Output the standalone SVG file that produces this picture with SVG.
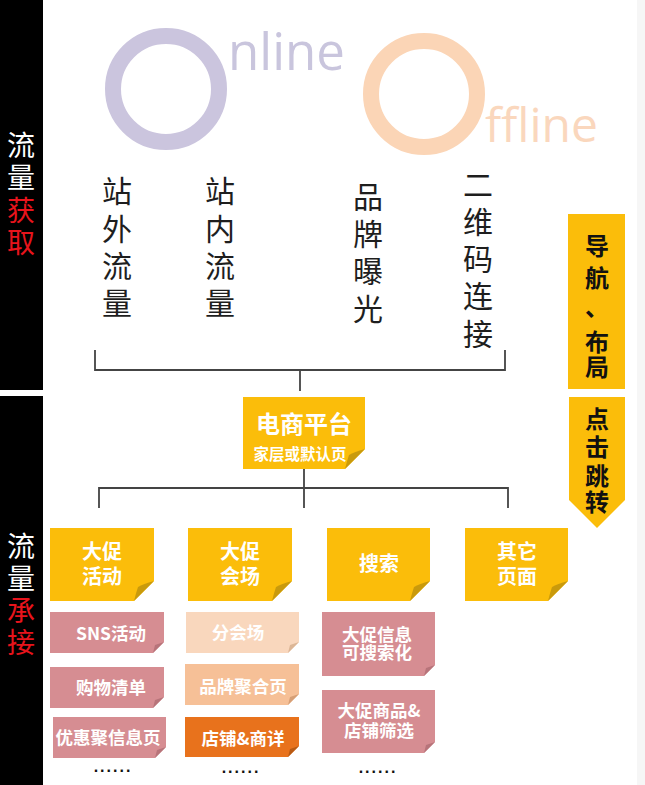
<svg xmlns="http://www.w3.org/2000/svg" width="645" height="785" viewBox="0 0 645 785">
<style>
.cjk{font-family:"Noto Sans CJK SC","Noto Sans",sans-serif}
.side{font-size:28px;text-anchor:middle}
.col{font-size:30px;fill:#1e1e1e;text-anchor:middle}
.ban{font-size:24px;font-weight:700;fill:#111;text-anchor:middle}
.bt{font-weight:700;fill:#fff;text-anchor:middle}
.t2{font-size:20px}
.t3{font-size:17.5px}
.y{fill:#fbbd0a}.yf{fill:#c99a0c}
.p{fill:#d68d92}.pf{fill:#b7747a}
.pe{fill:#f9d7bd}.pef{fill:#dcb696}
.pb{fill:#f6c097}.pbf{fill:#d69f76}
.or{fill:#e8721c}.orf{fill:#b85a14}
.w{fill:#fff}.r{fill:#e8141c}
.dots{font-family:"Liberation Sans",sans-serif;font-size:16px;font-weight:700;fill:#111;text-anchor:middle;letter-spacing:2px}
.ln{fill:none;stroke:#444;stroke-width:1.8}
</style>
<rect width="645" height="785" fill="#fff"/>
<rect x="637" y="0" width="8" height="785" fill="#f6f6f6"/>
<g id="sidebar">
<rect x="0" y="0" width="43" height="785" fill="#000"/>
<rect x="0" y="390" width="43" height="6" fill="#fff"/>
<text class="cjk side"><tspan class="w" x="21" y="156">流</tspan><tspan class="w" x="21" y="188">量</tspan><tspan class="r" x="21" y="221">获</tspan><tspan class="r" x="21" y="253">取</tspan></text>
<text class="cjk side"><tspan class="w" x="21" y="557">流</tspan><tspan class="w" x="21" y="589">量</tspan><tspan class="r" x="21" y="621">承</tspan><tspan class="r" x="21" y="653">接</tspan></text>
</g>
<g id="online">
<circle cx="166" cy="89" r="53" fill="none" stroke="#cbc5de" stroke-width="16"/>
<text x="228" y="70" font-family="'Open Sans',sans-serif" font-size="51" fill="#c9c5dd">nline</text>
</g>
<g id="offline">
<circle cx="424" cy="94" r="53" fill="none" stroke="#fbd5b6" stroke-width="16"/>
<text x="485" y="142" font-family="'Open Sans',sans-serif" font-size="48" fill="#fad7bd">ffline</text>
</g>
<g id="src-offsite">
<text class="cjk col"><tspan x="117" y="202">站</tspan><tspan x="117" y="240">外</tspan><tspan x="117" y="277">流</tspan><tspan x="117" y="314">量</tspan></text>
</g>
<g id="src-onsite">
<text class="cjk col"><tspan x="220" y="202">站</tspan><tspan x="220" y="240">内</tspan><tspan x="220" y="277">流</tspan><tspan x="220" y="314">量</tspan></text>
</g>
<g id="src-brand">
<text class="cjk col"><tspan x="368" y="208">品</tspan><tspan x="368" y="245">牌</tspan><tspan x="368" y="282">曝</tspan><tspan x="368" y="320">光</tspan></text>
</g>
<g id="src-qr">
<text class="cjk col"><tspan x="478" y="196">二</tspan><tspan x="478" y="233">维</tspan><tspan x="478" y="270">码</tspan><tspan x="478" y="307">连</tspan><tspan x="478" y="345">接</tspan></text>
</g>
<g id="connectors">
<path class="ln" d="M95,350V370H505V350M300,370V391"/>
<path class="ln" d="M304,469V508M99,508V488H508V508"/>
</g>
<g id="nav-banner">
<rect x="568" y="214" width="57" height="175" class="y"/>
<text class="cjk ban"><tspan x="597" y="255">导</tspan><tspan x="597" y="287">航</tspan><tspan x="597" y="316">、</tspan><tspan x="597" y="351">布</tspan><tspan x="597" y="376">局</tspan></text>
</g>
<g id="click-banner">
<polygon points="569,397 625,397 625,500 597,528 569,500" class="y"/>
<text class="cjk ban"><tspan x="597" y="428">点</tspan><tspan x="597" y="456">击</tspan><tspan x="597" y="485">跳</tspan><tspan x="597" y="511">转</tspan></text>
</g>
<g id="platform">
<path class="y" d="M243,397H365V449L345,469H243Z"/>
<path class="yf" d="M365,449Q354,452 349,455Q347,461 345,469Z"/>
<text class="cjk bt"><tspan x="304" y="433" font-size="24">电商平台</tspan><tspan x="300" y="460" font-size="15.5">家层或默认页</tspan></text>
</g>
<g id="promo-activity">
<path class="y" d="M50,528H154V581L134,601H50Z"/>
<path class="yf" d="M154,581Q143,584 138,587Q136,593 134,601Z"/>
<text class="cjk bt t2"><tspan x="102" y="559">大促</tspan><tspan x="102" y="584">活动</tspan></text>
</g>
<g id="promo-venue">
<path class="y" d="M188,528H292V581L272,601H188Z"/>
<path class="yf" d="M292,581Q281,584 276,587Q274,593 272,601Z"/>
<text class="cjk bt t2"><tspan x="240" y="559">大促</tspan><tspan x="240" y="584">会场</tspan></text>
</g>
<g id="search">
<path class="y" d="M327,528H430V581L410,601H327Z"/>
<path class="yf" d="M430,581Q419,584 414,587Q412,593 410,601Z"/>
<text class="cjk bt t2" x="379" y="571">搜索</text>
</g>
<g id="other-pages">
<path class="y" d="M465,528H568V581L548,601H465Z"/>
<path class="yf" d="M568,581Q557,584 552,587Q550,593 548,601Z"/>
<text class="cjk bt t2"><tspan x="517" y="559">其它</tspan><tspan x="517" y="584">页面</tspan></text>
</g>
<g id="sns">
<path class="p" d="M50,612H164V642L153,653H50Z"/>
<path class="pf" d="M164,642Q158,644 155,645Q154,649 153,653Z"/>
<text class="cjk bt t3" x="111" y="640">SNS活动</text>
</g>
<g id="shopping-list">
<path class="p" d="M50,667H164V697L153,708H50Z"/>
<path class="pf" d="M164,697Q158,699 155,700Q154,704 153,708Z"/>
<text class="cjk bt t3" x="111" y="694">购物清单</text>
</g>
<g id="deals-page">
<path class="p" d="M53,717H166V747L155,758H53Z"/>
<path class="pf" d="M166,747Q160,749 157,750Q156,754 155,758Z"/>
<text class="cjk bt t3" x="108" y="744">优惠聚信息页</text>
</g>
<text class="dots" x="113" y="772">......</text>
<g id="sub-venue">
<path class="pe" d="M186,612H299V642L288,653H186Z"/>
<path class="pef" d="M299,642Q293,644 290,645Q289,649 288,653Z"/>
<text class="cjk bt t3" x="238" y="639">分会场</text>
</g>
<g id="brand-page">
<path class="pb" d="M185,664H299V694L288,705H185Z"/>
<path class="pbf" d="M299,694Q293,696 290,697Q289,701 288,705Z"/>
<text class="cjk bt t3" x="243" y="693">品牌聚合页</text>
</g>
<g id="store-detail">
<path class="or" d="M185,717H299V746L288,757H185Z"/>
<path class="orf" d="M299,746Q293,748 290,749Q289,753 288,757Z"/>
<text class="cjk bt t3" x="243" y="745">店铺&amp;商详</text>
</g>
<text class="dots" x="241" y="773">......</text>
<g id="searchable">
<path class="p" d="M322,612H435V665L424,676H322Z"/>
<path class="pf" d="M435,665Q429,667 426,668Q425,672 424,676Z"/>
<text class="cjk bt t3"><tspan x="377" y="641">大促信息</tspan><tspan x="377" y="659">可搜索化</tspan></text>
</g>
<g id="filter">
<path class="p" d="M322,690H435V742L424,753H322Z"/>
<path class="pf" d="M435,742Q429,744 426,745Q425,749 424,753Z"/>
<text class="cjk bt t3"><tspan x="379" y="717">大促商品&amp;</tspan><tspan x="379" y="737">店铺筛选</tspan></text>
</g>
<text class="dots" x="378" y="773">......</text>
</svg>
